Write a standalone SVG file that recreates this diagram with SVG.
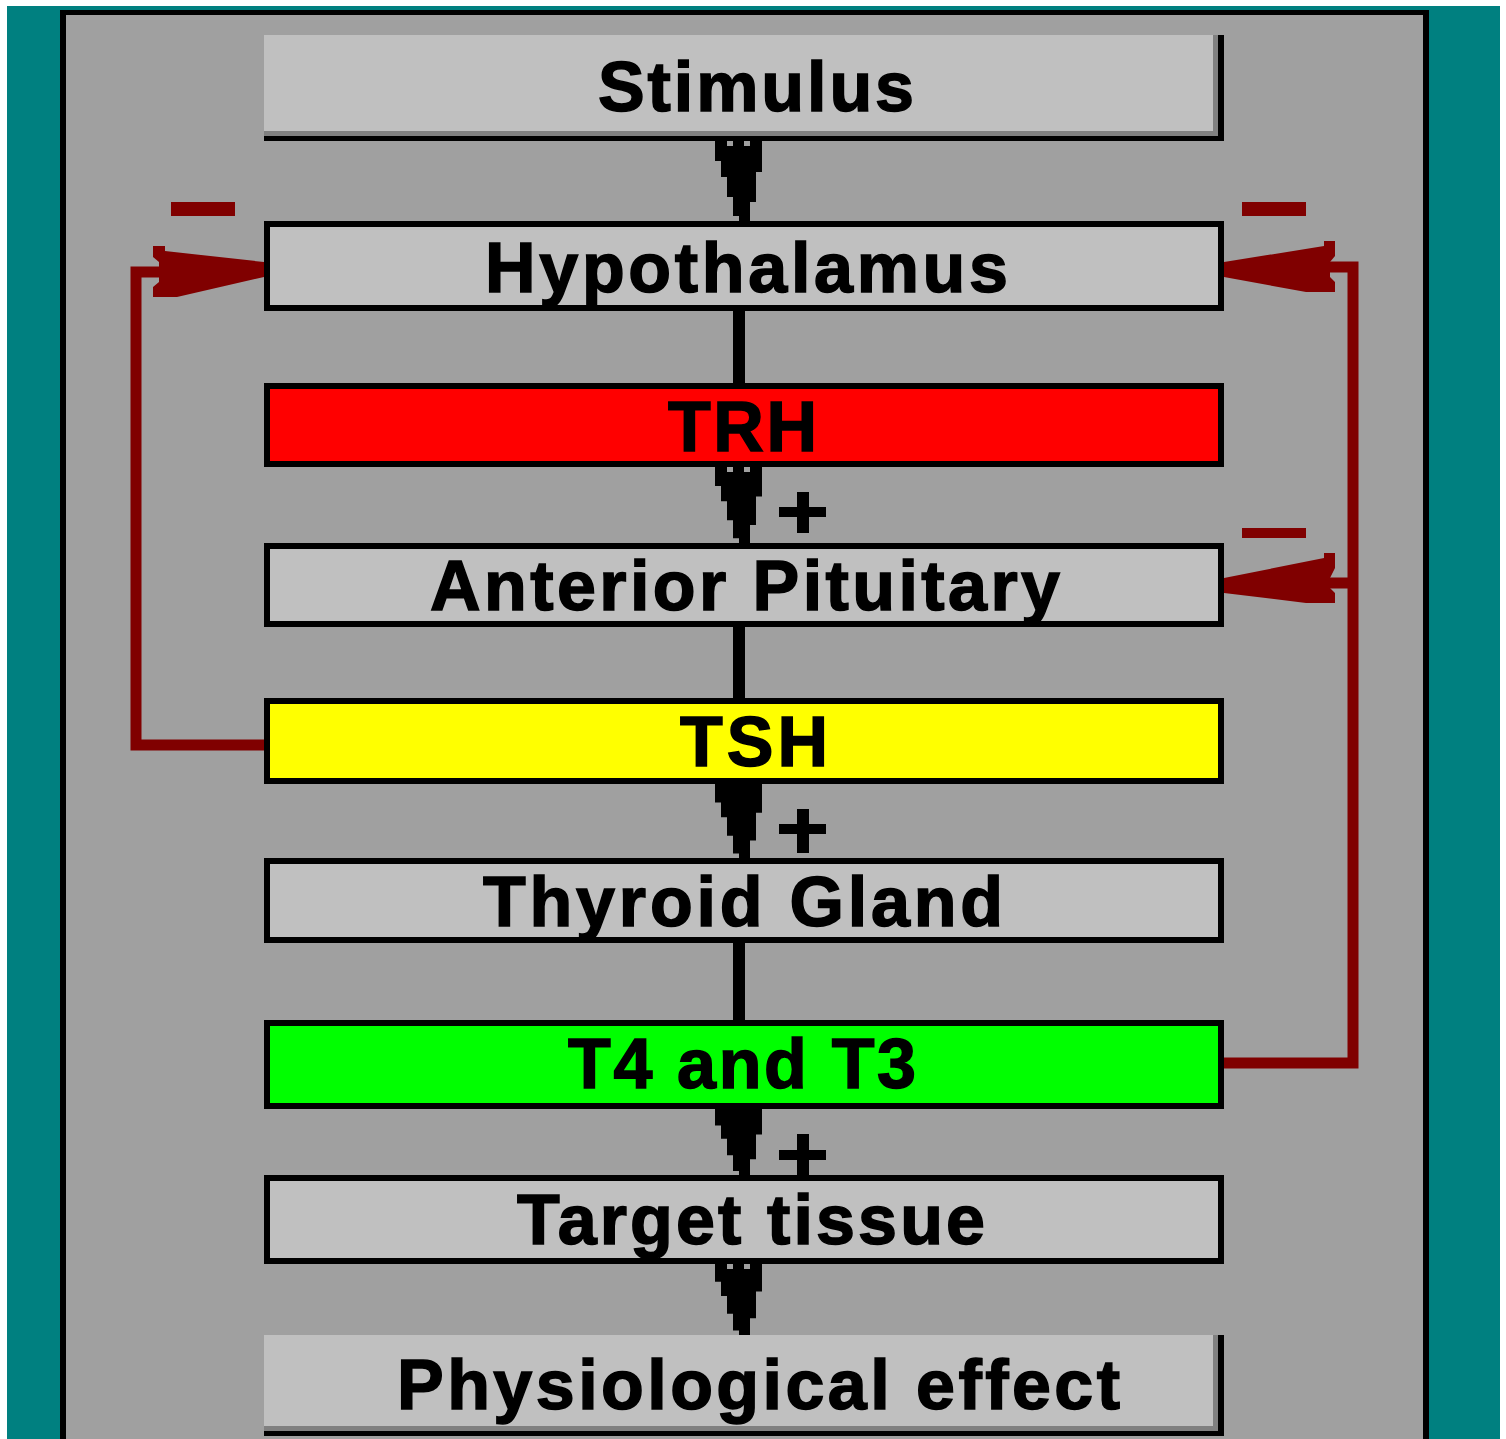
<svg xmlns="http://www.w3.org/2000/svg" xmlns:xlink="http://www.w3.org/1999/xlink" width="1506" height="1439" viewBox="0 0 1506 1439">
<style>
.box{stroke:#000;stroke-width:6}
.gray{fill:#C0C0C0}
.lbl{font-family:"Liberation Sans",Arial,sans-serif;font-weight:bold;font-size:70px;fill:#000;stroke:#000;stroke-width:1.5}
.fb{fill:none;stroke:#800000;stroke-width:11}
.red{fill:#800000}
.conn{stroke:#000;stroke-width:12}
.dot{fill:#A0A0A0}
</style>
<defs>
<symbol id="arrow" viewBox="0 0 47 80" preserveAspectRatio="none">
<polygon points="0,0 47,0 47,31 41,31 41,61 35,61 35,80 24,80 24,75 18,75 18,56 12,56 12,36 6,36 6,20 0,20" fill="#000"/>
</symbol>
</defs>
<rect x="0" y="0" width="1506" height="1439" fill="#fff"/>
<rect x="7" y="6" width="1493" height="1433" fill="#008080"/>
<rect x="60" y="10" width="1369" height="1440" fill="#000"/>
<rect x="66" y="15" width="1357" height="1424" fill="#A0A0A0"/>

<g id="connectors">
<line class="conn" x1="739" y1="311" x2="739" y2="383"/>
<line class="conn" x1="739" y1="627" x2="739" y2="698"/>
<line class="conn" x1="739" y1="943" x2="739" y2="1020"/>
<use xlink:href="#arrow" x="715" y="141" width="47" height="80"/>
<rect class="dot" x="727" y="141" width="6" height="5"/><rect class="dot" x="744" y="141" width="6" height="5"/>
<use xlink:href="#arrow" x="715" y="467" width="47" height="76"/>
<rect class="dot" x="727" y="467" width="6" height="5"/><rect class="dot" x="744" y="467" width="6" height="5"/>
<use xlink:href="#arrow" x="715" y="784" width="47" height="74"/>
<use xlink:href="#arrow" x="715" y="1109" width="47" height="66"/>
<use xlink:href="#arrow" x="715" y="1264" width="47" height="71"/>
<rect class="dot" x="727" y="1264" width="6" height="5"/><rect class="dot" x="744" y="1264" width="6" height="5"/>
<rect x="779" y="507" width="47" height="10"/><rect x="797" y="492" width="12" height="41"/>
<rect x="779" y="824" width="47" height="10"/><rect x="797" y="809" width="12" height="44"/>
<rect x="779" y="1150" width="47" height="10"/><rect x="797" y="1134" width="12" height="41"/>
<path class="fb" d="M264,745 H136 V272 H175"/>
<path class="fb" d="M1224,1063 H1353 V267 H1300"/>
<path class="fb" d="M1353,583 H1300"/>
<polygon class="red" points="153,246 165,246 165,251 264,262 264,277 177,297 153,297 153,287 159,282 159,262 153,257"/>
<polygon class="red" points="1224,262 1324,246 1324,241 1335,241 1335,256 1330,262 1330,277 1335,282 1335,292 1306,292 1224,277"/>
<polygon class="red" points="1224,578 1324,558 1324,553 1335,553 1335,568 1330,578 1330,588 1335,593 1335,603 1306,603 1224,593"/>
<rect class="red" x="171" y="202" width="64" height="14"/>
<rect class="red" x="1242" y="202" width="64" height="14"/>
<rect class="red" x="1242" y="528" width="64" height="10"/>
</g>

<g id="stimulus">
<rect x="264" y="35" width="960" height="106" fill="#000"/>
<rect x="264" y="35" width="954" height="101" fill="#808080"/>
<rect x="264" y="35" width="949" height="96" class="gray"/>
<text class="lbl" x="598" y="111" textLength="316">Stimulus</text>
</g>
<g id="hypothalamus">
<rect class="box gray" x="267" y="224" width="954" height="84"/>
<text class="lbl" x="485" y="292" textLength="523">Hypothalamus</text>
</g>
<g id="trh">
<rect class="box" fill="#FF0000" x="267" y="386" width="954" height="78"/>
<text class="lbl" x="668" y="451" textLength="149">TRH</text>
</g>
<g id="anterior-pituitary">
<rect class="box gray" x="267" y="546" width="954" height="78"/>
<text class="lbl" x="430" y="610" textLength="630">Anterior Pituitary</text>
</g>
<g id="tsh">
<rect class="box" fill="#FFFF00" x="267" y="701" width="954" height="80"/>
<text class="lbl" x="680" y="766" textLength="148">TSH</text>
</g>
<g id="thyroid-gland">
<rect class="box gray" x="267" y="861" width="954" height="79"/>
<text class="lbl" x="483" y="926" textLength="520">Thyroid Gland</text>
</g>
<g id="t4-t3">
<rect class="box" fill="#00FF00" x="267" y="1023" width="954" height="83"/>
<text class="lbl" x="568" y="1088" textLength="348">T4 and T3</text>
</g>
<g id="target-tissue">
<rect class="box gray" x="267" y="1178" width="954" height="83"/>
<text class="lbl" x="517" y="1244" textLength="468">Target tissue</text>
</g>
<g id="physiological-effect">
<rect x="264" y="1335" width="960" height="101" fill="#000"/>
<rect x="264" y="1335" width="954" height="96" fill="#808080"/>
<rect x="264" y="1335" width="949" height="91" class="gray"/>
<text class="lbl" x="397" y="1409" textLength="723">Physiological effect</text>
</g>
</svg>
